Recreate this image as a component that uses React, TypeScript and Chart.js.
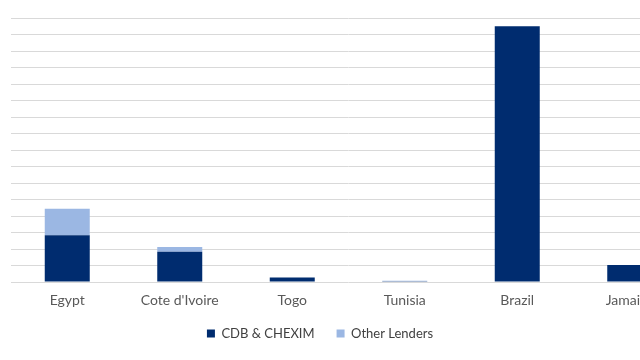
import React, { useEffect, useRef } from "react";
import { Chart, registerables } from "chart.js";

Chart.register(...registerables);

const categories = ["Egypt", "Cote d'Ivoire", "Togo", "Tunisia", "Brazil", "Jamaica"];
const cdbChexim = [2.83, 1.84, 0.27, 0.04, 15.5, 1.03];
const otherLenders = [1.61, 0.28, 0, 0.04, 0, 0];
const seriesNames = ["CDB & CHEXIM", "Other Lenders"];

const FONT = "Lato, 'Open Sans', sans-serif";

const legendTweak = {
  id: "legendTweak",
  beforeUpdate(chart: any) {
    const lg = chart.legend;
    if (lg && !lg.__patched) {
      const orig = lg.fit.bind(lg);
      lg.fit = function () {
        orig();
        this.height = 38;
      };
      lg.__patched = true;
    }
  },
  afterUpdate(chart: any) {
    const lg = chart.legend;
    if (!lg) return;
    lg.left = 0;
    lg.right = 640;
    lg.width = 640;
    lg.top = 305;
    lg.bottom = 360;
  },
};

export default function App() {
  const ref = useRef<HTMLCanvasElement | null>(null);
  useEffect(() => {
    document.body.style.margin = "0";
    const ctx = ref.current!;
    const chart = new Chart(ctx, {
      type: "bar",
      data: {
        labels: categories,
        datasets: [
          {
            label: seriesNames[0],
            data: cdbChexim,
            backgroundColor: "#002c6f",
            barPercentage: 0.4,
            categoryPercentage: 1,
          },
          {
            label: seriesNames[1],
            data: otherLenders,
            backgroundColor: "#9bb7e3",
            barPercentage: 0.4,
            categoryPercentage: 1,
          },
        ],
      },
      options: {
        responsive: false,
        animation: false,
        layout: { padding: { left: 11, top: 18, right: 0, bottom: 0 } },
        scales: {
          x: {
            stacked: true,
            grid: { display: false, drawTicks: false },
            border: { display: false },
            ticks: { color: "#595959", font: { family: FONT, size: 14 }, padding: 10 },
            afterFit: (scale: any) => {
              scale.height = 40;
            },
          },
          y: {
            stacked: true,
            min: 0,
            max: 16,
            ticks: { display: false, stepSize: 1 },
            grid: { color: "#d9d9d9", lineWidth: 1, drawTicks: false },
            border: { display: false },
          },
        },
        plugins: {
          legend: {
            position: "bottom",
            labels: {
              boxWidth: 8,
              boxHeight: 8,
              padding: 22,
              color: "#404040",
              font: { family: FONT, size: 13 },
            },
          },
          tooltip: { enabled: false },
        },
      },
      plugins: [legendTweak],
    });
    return () => chart.destroy();
  }, []);
  return (
    <div style={{ position: "fixed", left: 0, top: 0, width: 640, height: 360, overflow: "hidden", background: "#fff" }}>
      <canvas ref={ref} width={686} height={360} style={{ width: 686, height: 360, display: "block" }} />
    </div>
  );
}
